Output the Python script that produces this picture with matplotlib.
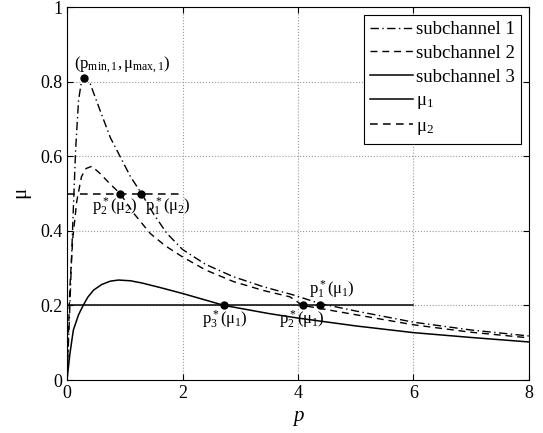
import matplotlib
matplotlib.use('Agg')
import matplotlib.pyplot as plt

plt.rcParams['font.family'] = ['Liberation Serif', 'DejaVu Serif']
plt.rcParams['mathtext.fontset'] = 'custom'
plt.rcParams['mathtext.rm'] = 'Liberation Serif'
plt.rcParams['mathtext.it'] = 'Liberation Serif'

# curves
p1 = [0, 0.05, 0.1, 0.15, 0.2, 0.25, 0.3, 0.4, 0.57, 0.75, 0.95, 1.1, 1.29, 1.5, 1.73, 2.0, 2.4, 2.88, 3.4, 3.92, 4.38, 5.0, 6.0, 7.0, 8.0]
mu_sub1 = [0, 0.2, 0.42, 0.62, 0.75, 0.80, 0.81, 0.795, 0.724, 0.65, 0.59, 0.545, 0.5, 0.445, 0.393, 0.35, 0.31, 0.277, 0.25, 0.228, 0.205, 0.185, 0.155, 0.134, 0.118]
p2 = [0, 0.05, 0.1, 0.17, 0.25, 0.33, 0.43, 0.57, 0.75, 0.92, 1.15, 1.44, 1.7, 2.0, 2.4, 2.88, 3.4, 3.86, 4.08, 5.0, 6.0, 7.0, 8.0]
mu_sub2 = [0, 0.25, 0.38, 0.48, 0.545, 0.567, 0.573, 0.554, 0.525, 0.5, 0.448, 0.393, 0.36, 0.33, 0.295, 0.264, 0.24, 0.223, 0.2, 0.175, 0.148, 0.128, 0.113]
p3 = [0, 0.05, 0.11, 0.2, 0.28, 0.36, 0.46, 0.6, 0.75, 0.89, 1.1, 1.3, 1.61, 2.0, 2.72, 3.5, 4.0, 5.0, 6.0, 7.0, 8.0]
mu_sub3 = [0, 0.07, 0.134, 0.175, 0.2, 0.222, 0.241, 0.256, 0.265, 0.268, 0.266, 0.26, 0.248, 0.232, 0.2, 0.178, 0.166, 0.145, 0.127, 0.114, 0.102]

mu1 = 0.2
mu1_range = [0, 6]
mu2 = 0.5
mu2_range = [0, 2]

pts_p = [0.3, 0.92, 1.28, 2.72, 4.08, 4.38]
pts_mu = [0.81, 0.5, 0.5, 0.2, 0.2, 0.2]
labels = [r'$(\mathrm{p}_{\mathrm{min},1},\mu_{\mathrm{max},1})$',
          r'$\mathrm{p}_2^*(\mu_2)$', r'$\mathrm{p}_1^*(\mu_2)$',
          r'$\mathrm{p}_3^*(\mu_1)$', r'$\mathrm{p}_2^*(\mu_1)$', r'$\mathrm{p}_1^*(\mu_1)$']
label_p = [0.95, 0.83, 1.74, 2.74, 4.06, 4.58]
label_mu = [0.845, 0.464, 0.464, 0.16, 0.16, 0.241]

fig = plt.figure(figsize=(5.43, 4.33), dpi=100)
ax = fig.add_axes([0.1234, 0.1224, 0.8508, 0.8614])

ax.plot(p1, mu_sub1, color='black', linestyle=(0, (6, 2.5, 1, 2.5)), linewidth=1.0, label='subchannel 1')
ax.plot(p2, mu_sub2, color='black', linestyle=(0, (5, 3.5)), linewidth=1.0, label='subchannel 2')
ax.plot(p3, mu_sub3, color='black', linestyle='-', linewidth=1.1, label='subchannel 3')
ax.plot(mu1_range, [mu1, mu1], color='black', linestyle='-', linewidth=1.1, label=r'$\mu_1$')
ax.plot(mu2_range, [mu2, mu2], color='black', linestyle=(0, (5, 3.5)), linewidth=1.1, label=r'$\mu_2$')

ax.plot(pts_p, pts_mu, 'o', color='black', markersize=5)
for t, x, y in zip(labels, label_p, label_mu):
    ax.text(x, y, t, ha='center', va='center', fontsize=12)

ax.set_xlim(0, 8)
ax.set_ylim(0, 1)
ax.set_xticks([0, 2, 4, 6, 8])
ax.set_yticks([0, 0.2, 0.4, 0.6, 0.8, 1])
ax.set_yticklabels(['0', '0.2', '0.4', '0.6', '0.8', '1'])
ax.grid(True, linestyle=':', color='#999999', linewidth=0.8)
ax.tick_params(direction='in', labelsize=13, length=4, top=True, right=True)
ax.set_xlabel('p', fontsize=15, fontstyle='italic')
ax.set_ylabel(r'$\mu$', fontsize=15)

leg = ax.legend(loc='upper right', fontsize=13.5, fancybox=False, edgecolor='black',
                framealpha=1, handlelength=2.3, handletextpad=0.15, borderaxespad=0.4,
                labelspacing=0.35, borderpad=0.35)
leg.get_frame().set_linewidth(0.8)

fig.savefig('out.png', dpi=100)
